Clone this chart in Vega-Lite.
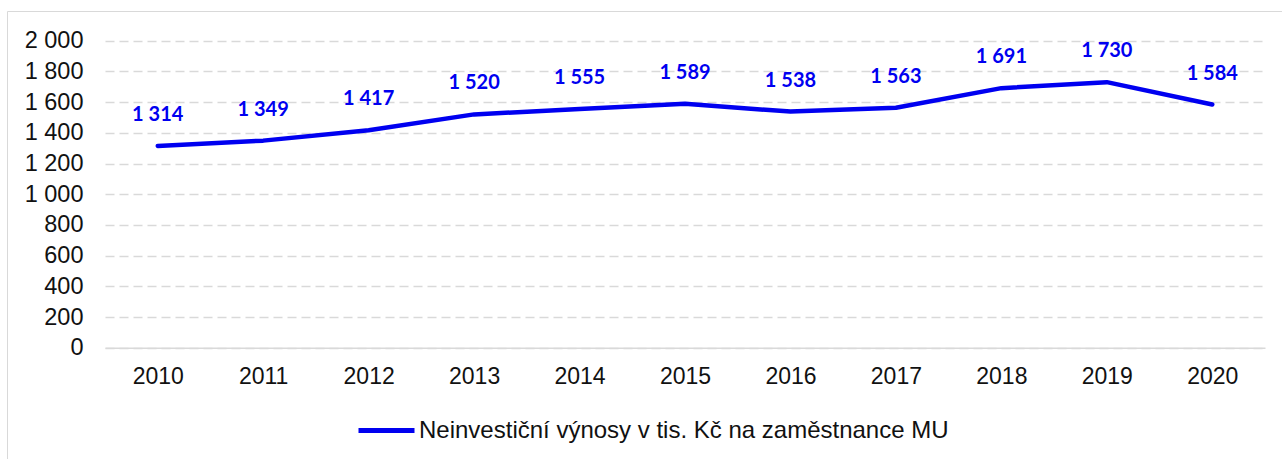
{
  "$schema": "https://vega.github.io/schema/vega-lite/v6.json",
  "width": 1275,
  "height": 448,
  "autosize": {"type": "none"},
  "padding": {"left": 7, "top": 11, "right": 0, "bottom": 0},
  "background": "#ffffff",
  "config": {
    "locale": {"number": {"decimal": ",", "thousands": " ", "grouping": [3], "currency": ["", " Kč"]}},
    "view": {"stroke": "#d9d9d9", "strokeWidth": 1},
    "font": "Liberation Sans"
  },
  "data": {
    "values": [
      {"rok": 2010, "hodnota": 1314},
      {"rok": 2011, "hodnota": 1349},
      {"rok": 2012, "hodnota": 1417},
      {"rok": 2013, "hodnota": 1520},
      {"rok": 2014, "hodnota": 1555},
      {"rok": 2015, "hodnota": 1589},
      {"rok": 2016, "hodnota": 1538},
      {"rok": 2017, "hodnota": 1563},
      {"rok": 2018, "hodnota": 1691},
      {"rok": 2019, "hodnota": 1730},
      {"rok": 2020, "hodnota": 1584}
    ]
  },
  "encoding": {
    "x": {
      "field": "rok",
      "type": "quantitative",
      "scale": {"domain": [2009.5, 2020.5], "range": [98, 1258], "nice": false, "zero": false},
      "axis": {
        "values": [2010, 2011, 2012, 2013, 2014, 2015, 2016, 2017, 2018, 2019, 2020],
        "format": "d",
        "title": null,
        "grid": false,
        "ticks": false,
        "domain": true,
        "domainColor": "#d9d9d9",
        "domainWidth": 1.5,
        "offset": -111.3,
        "labelFont": "Liberation Sans",
        "labelFontSize": 23,
        "labelColor": "#111111",
        "labelPadding": 18,
        "labelBaseline": "top"
      }
    },
    "y": {
      "field": "hodnota",
      "type": "quantitative",
      "scale": {"domain": [0, 2000], "range": [336.7, 29.7], "nice": false, "zero": true},
      "axis": {
        "values": [0, 200, 400, 600, 800, 1000, 1200, 1400, 1600, 1800, 2000],
        "format": ",d",
        "title": null,
        "grid": true,
        "gridColor": "#d9d9d9",
        "gridWidth": 1.5,
        "gridDash": [9, 5],
        "ticks": false,
        "domain": false,
        "offset": -98,
        "labelFont": "Liberation Sans",
        "labelFontSize": 23.5,
        "labelColor": "#111111",
        "labelPadding": 22
      }
    }
  },
  "layer": [
    {
      "mark": {"type": "line", "strokeWidth": 4.5, "strokeCap": "round", "strokeJoin": "round"},
      "encoding": {
        "color": {
          "datum": "Neinvestiční výnosy v tis. Kč na zaměstnance MU",
          "type": "nominal",
          "scale": {"range": ["#0000F0"]},
          "legend": {
            "orient": "none",
            "legendX": 349,
            "legendY": 389,
            "title": null,
            "padding": 0,
            "labelFont": "Liberation Sans",
            "labelFontSize": 24,
            "labelColor": "#111111",
            "labelLimit": 0,
            "labelOffset": 2,
            "symbolType": "stroke",
            "symbolSize": 3136,
            "symbolStrokeWidth": 5
          }
        }
      }
    },
    {
      "mark": {
        "type": "text",
        "font": "Lato",
        "fontWeight": "bold",
        "fontSize": 20,
        "color": "#0000F0",
        "baseline": "alphabetic",
        "dy": -25
      },
      "encoding": {
        "text": {"field": "hodnota", "type": "quantitative", "format": ",d"}
      }
    }
  ]
}
